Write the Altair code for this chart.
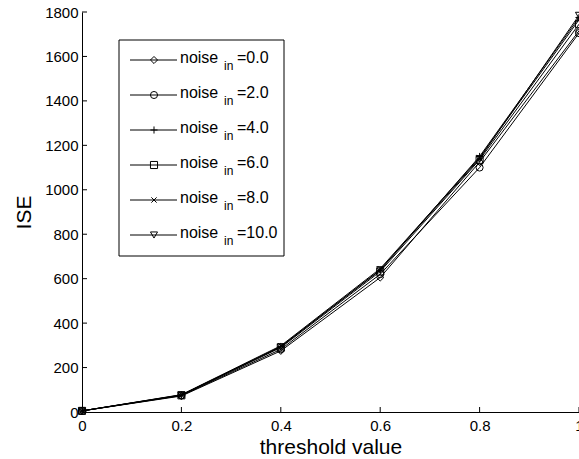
import altair as alt
import pandas as pd

thresholds = [0.0, 0.2, 0.4, 0.6, 0.8, 1.0]
series_names = ["0.0", "2.0", "4.0", "6.0", "8.0", "10.0"]
ise_0 = [5, 72, 275, 605, 1125, 1715]
ise_2 = [5, 74, 282, 620, 1100, 1705]
ise_4 = [5, 76, 295, 638, 1150, 1775]
ise_6 = [5, 75, 290, 632, 1135, 1745]
ise_8 = [5, 78, 298, 645, 1145, 1765]
ise_10 = [5, 77, 293, 640, 1140, 1785]
x_ticks = [0.0, 0.2, 0.4, 0.6, 0.8, 1.0]
y_ticks = [0, 200, 400, 600, 800, 1000, 1200, 1400, 1600, 1800]

PLUS = "M-1,0L1,0M0,-1L0,1"
XMARK = "M-0.75,-0.75L0.75,0.75M-0.75,0.75L0.75,-0.75"
shapes = ["diamond", "circle", PLUS, "square", XMARK, "triangle-down"]

rows = []
for name, vals in zip(series_names, [ise_0, ise_2, ise_4, ise_6, ise_8, ise_10]):
    for t, v in zip(thresholds, vals):
        rows.append({"series": name, "threshold": t, "ise": v})
df = pd.DataFrame(rows)

FONT = "Liberation Sans"
xscale = alt.Scale(domain=[0, 1], nice=False, zero=False)
yscale = alt.Scale(domain=[0, 1800], nice=False)
shape_scale = alt.Scale(domain=series_names, range=shapes)

base = alt.Chart(df)
lines = base.mark_line(color="black", strokeWidth=1).encode(
    x=alt.X("threshold:Q", scale=xscale,
            axis=alt.Axis(title="threshold value", values=x_ticks, format="~g")),
    y=alt.Y("ise:Q", scale=yscale, axis=alt.Axis(title="ISE", values=y_ticks, format="d")),
    detail="series:N",
)
points = base.mark_point(filled=False, color="black", strokeWidth=1, size=50, opacity=1).encode(
    x=alt.X("threshold:Q", scale=xscale),
    y=alt.Y("ise:Q", scale=yscale),
    shape=alt.Shape("series:N", scale=shape_scale, legend=None),
)

xt = alt.Chart(pd.DataFrame({"v": x_ticks})).mark_rule(color="black", strokeWidth=1).encode(
    x=alt.X("v:Q", scale=xscale), y=alt.value(400), y2=alt.value(395))
yt = alt.Chart(pd.DataFrame({"v": y_ticks})).mark_rule(color="black", strokeWidth=1).encode(
    y=alt.Y("v:Q", scale=yscale), x=alt.value(0), x2=alt.value(5))

# legend
leg = pd.DataFrame({"series": series_names, "row": list(range(6)),
                    "lab": ["=" + s for s in series_names]})
legbase = alt.Chart(leg).transform_calculate(ypix="48 + 35*datum.row")
box = alt.Chart(pd.DataFrame({"a": [0]})).mark_rect(fill="white", stroke="black", strokeWidth=1).encode(
    x=alt.value(37), x2=alt.value(202), y=alt.value(28), y2=alt.value(244))
legline = legbase.mark_rule(color="black", strokeWidth=1).encode(
    x=alt.value(48), x2=alt.value(95), y=alt.Y("ypix:Q", scale=None))
legpt = legbase.mark_point(filled=False, color="black", strokeWidth=1, size=50, opacity=1).encode(
    x=alt.value(72), y=alt.Y("ypix:Q", scale=None),
    shape=alt.Shape("series:N", scale=shape_scale, legend=None))
legt1 = legbase.transform_calculate(yb="datum.ypix + 3").mark_text(
    text="noise", font=FONT, fontSize=16, align="left", baseline="alphabetic", fill="black").encode(
    x=alt.value(98), y=alt.Y("yb:Q", scale=None))
legt2 = legbase.transform_calculate(yb="datum.ypix + 10").mark_text(
    text="in", font=FONT, fontSize=12, align="left", baseline="alphabetic", fill="black").encode(
    x=alt.value(142), y=alt.Y("yb:Q", scale=None))
legt3 = legbase.transform_calculate(yb="datum.ypix + 3").mark_text(
    font=FONT, fontSize=16, align="left", baseline="alphabetic", fill="black").encode(
    x=alt.value(155), y=alt.Y("yb:Q", scale=None), text="lab:N")

chart = alt.layer(lines, points, xt, yt, box, legline, legpt, legt1, legt2, legt3).properties(
    width=497, height=400,
    autosize=alt.AutoSizeParams(type="none"),
    padding={"left": 82, "top": 12, "right": 0, "bottom": 47},
    background="white",
).configure_view(stroke=None).configure_axis(
    grid=False, ticks=False, domainColor="black", domainWidth=1,
    labelFont=FONT, labelFontSize=15, labelColor="black",
    titleFont=FONT, titleFontSize=21, titleFontWeight="normal", titleColor="black",
).configure_axisX(labelPadding=6, titlePadding=3, labelFlush=False, labelOverlap=False
).configure_axisY(labelPadding=4, titlePadding=10, labelOverlap=False)

chart.save("out.html", embed_options={"renderer": "svg", "actions": False})
